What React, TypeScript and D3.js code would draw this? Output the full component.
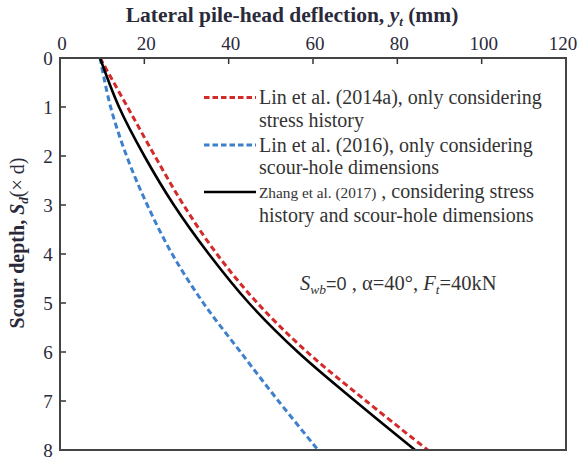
import React, { useEffect, useRef } from 'react';
import { select, scaleLinear, line, curveCatmullRom } from 'd3';

// depth values (× d)
const depths = [0, 1, 2, 3, 4, 5, 6, 7, 8];
// lateral pile-head deflection (mm)
const lin2014a = [9.5, 16, 22.5, 29.3, 37.2, 46.8, 58.6, 72.6, 87.2];
const lin2016 = [9.5, 12.0, 15.8, 20.7, 26.6, 34.0, 42.8, 51.8, 61.2];
const zhang2017 = [9.5, 14, 20, 27, 35.3, 44.8, 56.4, 70, 84.2];

const xTicks = [0, 20, 40, 60, 80, 100, 120];
const yTicks = [0, 1, 2, 3, 4, 5, 6, 7, 8];

const W = 580;
const H = 460;
const left = 60;
const right = 566;
const top = 58;
const bottom = 450;
const serif = "'Liberation Serif', 'Times New Roman', serif";

const App = () => {
  const svgRef = useRef<SVGSVGElement>(null);

  useEffect(() => {
    const svg = select(svgRef.current);
    svg.selectAll('*').remove();

    const x = scaleLinear().domain([0, 120]).range([left, right]);
    const y = scaleLinear().domain([0, 8]).range([top, bottom]);

    // tick marks inside the frame
    svg
      .selectAll('.xtick')
      .data(xTicks.slice(1, -1))
      .join('line')
      .attr('x1', (d) => x(d))
      .attr('x2', (d) => x(d))
      .attr('y1', top)
      .attr('y2', top + 6)
      .attr('stroke', '#333')
      .attr('stroke-width', 1.5);
    svg
      .selectAll('.ytick')
      .data(yTicks.slice(1, -1))
      .join('line')
      .attr('x1', left)
      .attr('x2', left + 6)
      .attr('y1', (d) => y(d))
      .attr('y2', (d) => y(d))
      .attr('stroke', '#333')
      .attr('stroke-width', 1.5);

    // tick labels
    svg
      .append('g')
      .selectAll('text')
      .data(xTicks)
      .join('text')
      .attr('x', (d) => Math.min(x(d) + 2, 563))
      .attr('y', 50)
      .attr('text-anchor', 'middle')
      .style('font-family', serif)
      .attr('font-size', 19)
      .attr('fill', '#2a2a3a')
      .text((d) => d);
    svg
      .append('g')
      .selectAll('text')
      .data(yTicks)
      .join('text')
      .attr('x', 48)
      .attr('y', (d) => y(d) + 6.5)
      .attr('text-anchor', 'middle')
      .style('font-family', serif)
      .attr('font-size', 19)
      .attr('fill', '#2a2a3a')
      .text((d) => d);

    // curves
    const series = [
      { vals: lin2014a, color: '#d42a2a', dash: '6,3.5', width: 3 },
      { vals: lin2016, color: '#3f80cc', dash: '6,3.5', width: 3 },
      { vals: zhang2017, color: '#000', dash: null, width: 2.6 },
    ];
    const path = line<number>()
      .x((d) => x(d))
      .y((_, i) => y(depths[i]))
      .curve(curveCatmullRom);
    svg
      .append('g')
      .selectAll('path')
      .data(series)
      .join('path')
      .attr('d', (s) => path(s.vals))
      .attr('fill', 'none')
      .attr('stroke', (s) => s.color)
      .attr('stroke-width', (s) => s.width)
      .attr('stroke-dasharray', (s) => s.dash);

    // frame
    svg
      .append('rect')
      .attr('x', left)
      .attr('y', top)
      .attr('width', right - left)
      .attr('height', bottom - top)
      .attr('fill', 'none')
      .attr('stroke', '#444')
      .attr('stroke-width', 2);

    // legend
    const rows = [0, 1, 2];
    const legY = [97.5, 145, 192];
    const lg = svg.append('g');
    lg.selectAll('line')
      .data(rows)
      .join('line')
      .attr('x1', 204)
      .attr('x2', 256)
      .attr('y1', (i) => legY[i])
      .attr('y2', (i) => legY[i])
      .attr('stroke', (i) => series[i].color)
      .attr('stroke-width', (i) => series[i].width)
      .attr('stroke-dasharray', (i) => (series[i].dash ? '5.5,3' : null));

    const txt = (tx: number, ty: number, s: string, size = 20) =>
      lg
        .append('text')
        .attr('x', tx)
        .attr('y', ty)
        .style('font-family', serif)
        .attr('font-size', size)
        .attr('fill', '#333')
        .text(s);
    txt(259, legY[0] + 6.5, 'Lin et al. (2014a), only considering');
    txt(259, legY[0] + 29, 'stress history');
    txt(259, legY[1] + 6.5, 'Lin et al. (2016), only considering');
    txt(259, legY[1] + 29, 'scour-hole dimensions');
    const z = txt(259, legY[2] + 5.5, 'Zhang et al. (2017)', 15.3);
    z.append('tspan').attr('font-size', 20).text(' , considering stress');
    txt(259, legY[2] + 29.5, 'history and scour-hole dimensions');

    // annotation
    const ann = svg
      .append('text')
      .attr('x', 300)
      .attr('y', 290)
      .style('font-family', serif)
      .attr('font-size', 20.5)
      .attr('fill', '#333');
    ann.append('tspan').attr('font-style', 'italic').text('S');
    ann.append('tspan').attr('font-style', 'italic').attr('font-size', 13.5).attr('dy', 4).text('wb');
    ann
      .append('tspan')
      .attr('dy', -4)
      .style('font-family', "'Liberation Sans', Arial, sans-serif")
      .attr('font-size', 18)
      .text('=0');
    ann.append('tspan').text(' , α=40°, ');
    ann.append('tspan').attr('font-style', 'italic').text('F');
    ann.append('tspan').attr('font-style', 'italic').attr('font-size', 13.5).attr('dy', 4).text('t');
    ann.append('tspan').attr('dy', -4).text('=40kN');

    // axis titles
    const xt = svg
      .append('text')
      .attr('x', 292)
      .attr('y', 22)
      .attr('text-anchor', 'middle')
      .style('font-family', serif)
      .attr('font-weight', 'bold')
      .attr('font-size', 21.5)
      .attr('fill', '#2a2a3a');
    xt.append('tspan').text('Lateral pile-head deflection, ');
    xt.append('tspan').attr('font-style', 'italic').text('y');
    xt.append('tspan').attr('font-style', 'italic').attr('font-size', 13).attr('dy', 4).text('t');
    xt.append('tspan').attr('dy', -4).text(' (mm)');

    const yt = svg
      .append('text')
      .attr('transform', `translate(24,243) rotate(-90)`)
      .attr('text-anchor', 'middle')
      .style('font-family', serif)
      .attr('font-weight', 'bold')
      .attr('font-size', 20)
      .attr('fill', '#2a2a3a');
    yt.append('tspan').text('Scour depth, ');
    yt.append('tspan').attr('font-style', 'italic').text('S');
    yt.append('tspan').attr('font-style', 'italic').attr('font-size', 13).attr('dy', 4).text('d');
    yt.append('tspan').attr('dy', -4).attr('font-weight', 'normal').text('(× d)');
  }, []);

  return (
    <svg
      ref={svgRef}
      width={W}
      height={H}
      style={{ position: 'absolute', left: 0, top: 0, background: '#fff' }}
    />
  );
};

export default App;
